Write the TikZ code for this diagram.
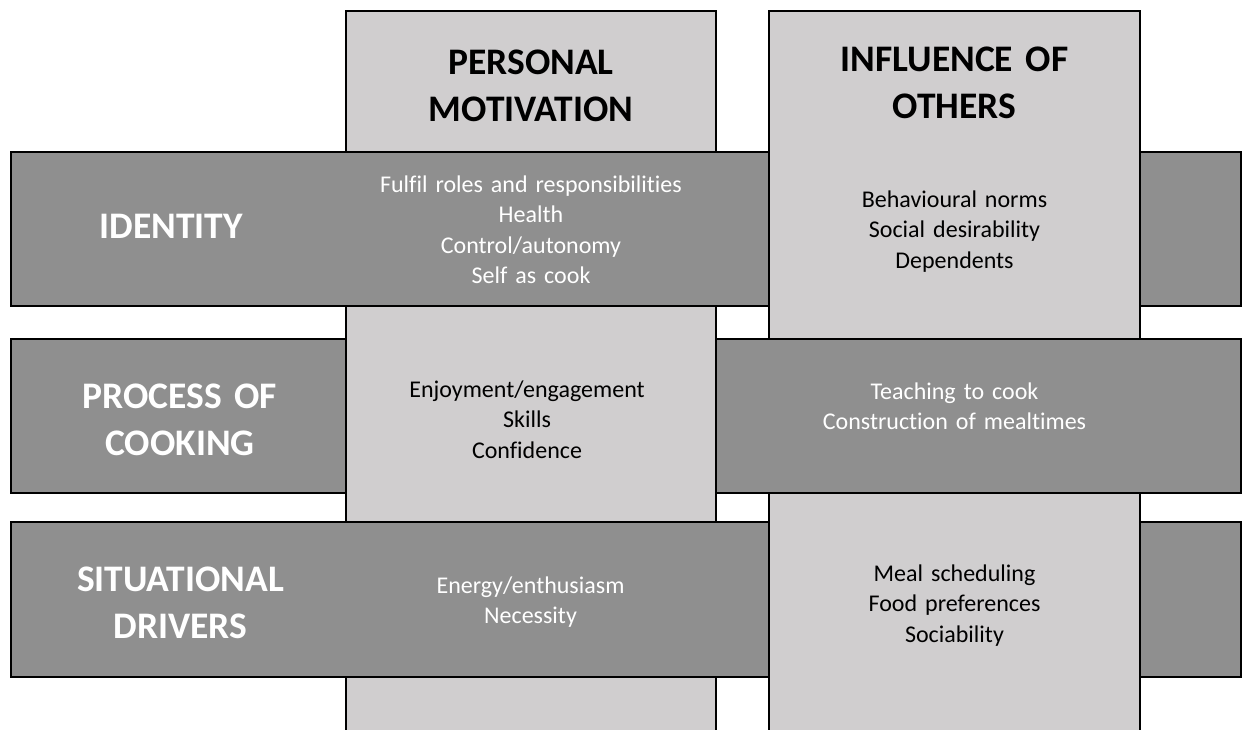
\documentclass[tikz,border=0pt]{standalone}
\usepackage{fontspec}
\setmainfont{Carlito}[Ligatures=NoCommon]
\definecolor{rowgray}{HTML}{8F8F8F}
\definecolor{colgray}{HTML}{D0CECF}
\tikzset{
  colbox/.style={fill=colgray, draw=black},
  rowbox/.style={fill=rowgray, draw=black},
  patch/.style={fill=colgray},
  head/.style={anchor=base, inner sep=0pt, align=center, text width=#1, font=\fontsize{37.5}{47}\selectfont\bfseries},
  head/.default=360pt,
  body/.style={anchor=base, inner sep=0pt, align=center, text width=360pt, font=\fontsize{24}{30.6}\selectfont},
}
\begin{document}
\begin{tikzpicture}[x=1pt, y=-1pt, line width=2.2pt]
\useasboundingbox (0,0) rectangle (1246,729);
\begin{scope}
\clip (0,0) rectangle (1246,729);
% columns
\draw[colbox] (346,11) rectangle (716,760);
\draw[colbox] (769,11) rectangle (1140,760);
% rows
\draw[rowbox] (11,152) rectangle (1241,306);
\draw[rowbox] (11,339) rectangle (1241,493);
\draw[rowbox] (11,522) rectangle (1241,677);
% column pieces lying over the rows
\fill[patch] (346,337) rectangle (716,495);
\draw (346,337) -- (346,495) (716,337) -- (716,495);
\fill[patch] (769,150) rectangle (1140,308);
\draw (769,150) -- (769,308) (1140,150) -- (1140,308);
\fill[patch] (769,520) rectangle (1140,679);
\draw (769,520) -- (769,679) (1140,520) -- (1140,679);
\end{scope}
% column headings
\node[head] (pm) at (531,74) {PERSONAL\\MOTIVATION};
\node[head] (io) at (954.5,71) {INFLUENCE OF\\OTHERS};
% row headings
\node[head=320pt, text=white] (id) at (171,238) {IDENTITY};
\node[head=320pt, text=white] (pc) at (180,408) {PROCESS OF\\COOKING};
\node[head=320pt, text=white] (sd) at (180.5,591) {SITUATIONAL\\DRIVERS};
% cell contents
\node[body, text=white] (c11) at (531,192) {Fulfil roles and responsibilities\\Health\\Control/autonomy\\Self as cook};
\node[body] (c12) at (954.5,207) {Behavioural norms\\Social desirability\\Dependents};
\node[body] (c21) at (527,397) {Enjoyment/engagement\\Skills\\Confidence};
\node[body, text=white] (c22) at (954.5,399) {Teaching to cook\\Construction of mealtimes};
\node[body, text=white] (c31) at (530.5,593) {Energy/enthusiasm\\Necessity};
\node[body] (c32) at (954.5,581) {Meal scheduling\\Food preferences\\Sociability};
\end{tikzpicture}
\end{document}
